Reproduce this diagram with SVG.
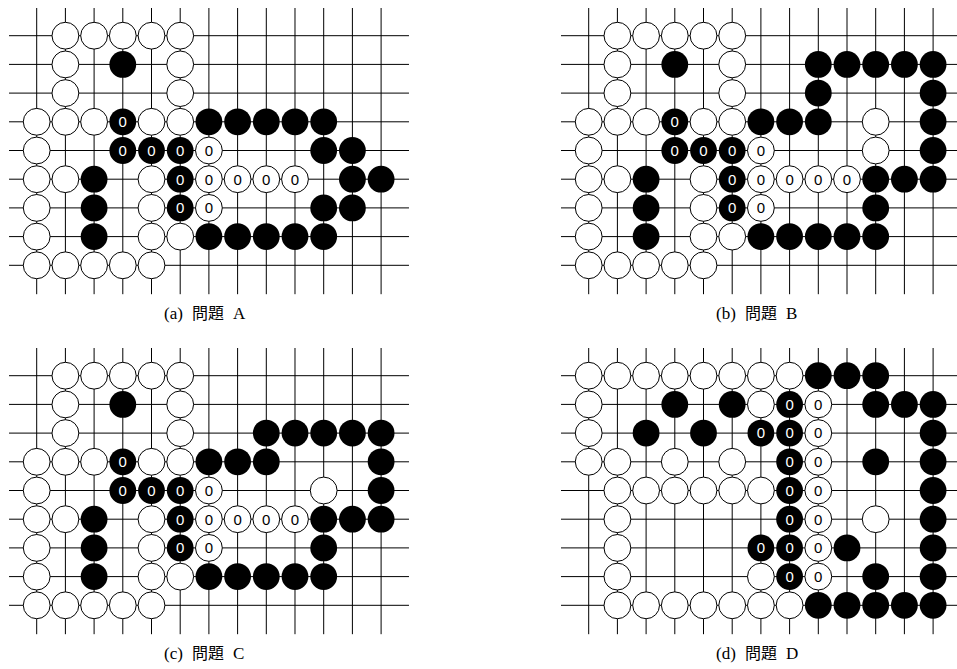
<svg xmlns="http://www.w3.org/2000/svg" width="957" height="669" viewBox="0 0 957 669">
<style>
.grid{fill:none;stroke:#000;stroke-width:1}
.w{fill:#fff;stroke:#000;stroke-width:1}
.b{fill:#000}
.tw{fill:#fff;font-family:"Liberation Sans","DejaVu Sans",sans-serif;font-size:15px;text-anchor:middle}
.tb{fill:#000;font-family:"Liberation Sans","DejaVu Sans",sans-serif;font-size:15px;text-anchor:middle}
.cap{font-family:"Liberation Serif",serif;font-size:17px;fill:#000}
.j{font-family:"Noto Sans CJK JP","Noto Sans CJK SC",sans-serif;font-size:16px}
</style>
<defs>
<circle id="w" class="w" r="13.4"/>
<circle id="b" class="b" r="13.4"/>
<path id="grid" class="grid" d="M-27.7 0H372.3M-27.7 28.7H372.3M-27.7 57.4H372.3M-27.7 86.1H372.3M-27.7 114.8H372.3M-27.7 143.5H372.3M-27.7 172.2H372.3M-27.7 200.9H372.3M-27.7 229.6H372.3M0 -27.7V258.5M28.7 -27.7V258.5M57.4 -27.7V258.5M86.1 -27.7V258.5M114.8 -27.7V258.5M143.5 -27.7V258.5M172.2 -27.7V258.5M200.9 -27.7V258.5M229.6 -27.7V258.5M258.3 -27.7V258.5M287 -27.7V258.5M315.7 -27.7V258.5M344.4 -27.7V258.5"/>
<g id="common">
<use href="#w" x="28.7" y="0"/><use href="#w" x="57.4" y="0"/><use href="#w" x="86.1" y="0"/><use href="#w" x="114.8" y="0"/><use href="#w" x="143.5" y="0"/>
<use href="#w" x="28.7" y="28.7"/><use href="#w" x="143.5" y="28.7"/>
<use href="#w" x="28.7" y="57.4"/><use href="#w" x="143.5" y="57.4"/>
<use href="#w" x="0" y="86.1"/><use href="#w" x="28.7" y="86.1"/><use href="#w" x="57.4" y="86.1"/><use href="#w" x="114.8" y="86.1"/><use href="#w" x="143.5" y="86.1"/>
<use href="#w" x="0" y="114.8"/>
<use href="#w" x="0" y="143.5"/><use href="#w" x="28.7" y="143.5"/><use href="#w" x="114.8" y="143.5"/>
<use href="#w" x="0" y="172.2"/><use href="#w" x="114.8" y="172.2"/>
<use href="#w" x="0" y="200.9"/><use href="#w" x="114.8" y="200.9"/><use href="#w" x="143.5" y="200.9"/>
<use href="#w" x="0" y="229.6"/><use href="#w" x="28.7" y="229.6"/><use href="#w" x="57.4" y="229.6"/><use href="#w" x="86.1" y="229.6"/><use href="#w" x="114.8" y="229.6"/>
<use href="#b" x="86.1" y="28.7"/>
<use href="#b" x="172.2" y="86.1"/><use href="#b" x="200.9" y="86.1"/><use href="#b" x="229.6" y="86.1"/>
<use href="#b" x="57.4" y="143.5"/><use href="#b" x="57.4" y="172.2"/><use href="#b" x="57.4" y="200.9"/>
<use href="#b" x="172.2" y="200.9"/><use href="#b" x="200.9" y="200.9"/><use href="#b" x="229.6" y="200.9"/><use href="#b" x="258.3" y="200.9"/><use href="#b" x="287" y="200.9"/>
<use href="#b" x="287" y="172.2"/><use href="#b" x="315.7" y="143.5"/><use href="#b" x="344.4" y="143.5"/>
<use href="#b" x="86.1" y="86.1"/><text class="tw" x="86.1" y="91.5">0</text>
<use href="#b" x="86.1" y="114.8"/><text class="tw" x="86.1" y="120.2">0</text>
<use href="#b" x="114.8" y="114.8"/><text class="tw" x="114.8" y="120.2">0</text>
<use href="#b" x="143.5" y="114.8"/><text class="tw" x="143.5" y="120.2">0</text>
<use href="#b" x="143.5" y="143.5"/><text class="tw" x="143.5" y="148.9">0</text>
<use href="#b" x="143.5" y="172.2"/><text class="tw" x="143.5" y="177.6">0</text>
<use href="#w" x="172.2" y="114.8"/><text class="tb" x="172.2" y="120.2">0</text>
<use href="#w" x="172.2" y="143.5"/><text class="tb" x="172.2" y="148.9">0</text>
<use href="#w" x="200.9" y="143.5"/><text class="tb" x="200.9" y="148.9">0</text>
<use href="#w" x="229.6" y="143.5"/><text class="tb" x="229.6" y="148.9">0</text>
<use href="#w" x="258.3" y="143.5"/><text class="tb" x="258.3" y="148.9">0</text>
<use href="#w" x="172.2" y="172.2"/><text class="tb" x="172.2" y="177.6">0</text>
</g>
</defs>

<g id="boardA" transform="translate(36.7 35.7)">
<use href="#grid"/>
<use href="#common"/>
<use href="#b" x="258.3" y="86.1"/><use href="#b" x="287" y="86.1"/>
<use href="#b" x="287" y="114.8"/><use href="#b" x="315.7" y="114.8"/>
<use href="#b" x="315.7" y="172.2"/>
</g>

<g id="boardB" transform="translate(588.7 35.7)">
<use href="#grid"/>
<use href="#common"/>
<use href="#b" x="229.6" y="28.7"/><use href="#b" x="258.3" y="28.7"/><use href="#b" x="287" y="28.7"/><use href="#b" x="315.7" y="28.7"/><use href="#b" x="344.4" y="28.7"/>
<use href="#b" x="229.6" y="57.4"/><use href="#b" x="344.4" y="57.4"/>
<use href="#b" x="344.4" y="86.1"/><use href="#b" x="344.4" y="114.8"/>
<use href="#b" x="287" y="143.5"/>
<use href="#w" x="287" y="86.1"/><use href="#w" x="287" y="114.8"/>
</g>

<g id="boardC" transform="translate(36.7 375.7)">
<use href="#grid"/>
<use href="#common"/>
<use href="#b" x="229.6" y="57.4"/><use href="#b" x="258.3" y="57.4"/><use href="#b" x="287" y="57.4"/><use href="#b" x="315.7" y="57.4"/><use href="#b" x="344.4" y="57.4"/>
<use href="#b" x="344.4" y="86.1"/><use href="#b" x="344.4" y="114.8"/>
<use href="#b" x="287" y="143.5"/>
<use href="#w" x="287" y="114.8"/>
</g>

<g id="boardD" transform="translate(588.7 375.7)">
<use href="#grid"/>
<use href="#w" x="0" y="0"/><use href="#w" x="28.7" y="0"/><use href="#w" x="57.4" y="0"/><use href="#w" x="86.1" y="0"/><use href="#w" x="114.8" y="0"/><use href="#w" x="143.5" y="0"/><use href="#w" x="172.2" y="0"/><use href="#w" x="200.9" y="0"/>
<use href="#w" x="0" y="28.7"/><use href="#w" x="172.2" y="28.7"/>
<use href="#w" x="0" y="57.4"/>
<use href="#w" x="0" y="86.1"/><use href="#w" x="28.7" y="86.1"/><use href="#w" x="86.1" y="86.1"/><use href="#w" x="143.5" y="86.1"/>
<use href="#w" x="28.7" y="114.8"/><use href="#w" x="57.4" y="114.8"/><use href="#w" x="86.1" y="114.8"/><use href="#w" x="114.8" y="114.8"/><use href="#w" x="143.5" y="114.8"/><use href="#w" x="172.2" y="114.8"/>
<use href="#w" x="28.7" y="143.5"/><use href="#w" x="287" y="143.5"/>
<use href="#w" x="28.7" y="172.2"/>
<use href="#w" x="28.7" y="200.9"/><use href="#w" x="172.2" y="200.9"/>
<use href="#w" x="28.7" y="229.6"/><use href="#w" x="57.4" y="229.6"/><use href="#w" x="86.1" y="229.6"/><use href="#w" x="114.8" y="229.6"/><use href="#w" x="143.5" y="229.6"/><use href="#w" x="172.2" y="229.6"/><use href="#w" x="200.9" y="229.6"/>
<use href="#b" x="229.6" y="0"/><use href="#b" x="258.3" y="0"/><use href="#b" x="287" y="0"/>
<use href="#b" x="86.1" y="28.7"/><use href="#b" x="143.5" y="28.7"/><use href="#b" x="287" y="28.7"/><use href="#b" x="315.7" y="28.7"/><use href="#b" x="344.4" y="28.7"/>
<use href="#b" x="57.4" y="57.4"/><use href="#b" x="114.8" y="57.4"/><use href="#b" x="344.4" y="57.4"/>
<use href="#b" x="287" y="86.1"/><use href="#b" x="344.4" y="86.1"/>
<use href="#b" x="344.4" y="114.8"/>
<use href="#b" x="344.4" y="143.5"/>
<use href="#b" x="258.3" y="172.2"/><use href="#b" x="344.4" y="172.2"/>
<use href="#b" x="287" y="200.9"/><use href="#b" x="344.4" y="200.9"/>
<use href="#b" x="229.6" y="229.6"/><use href="#b" x="258.3" y="229.6"/><use href="#b" x="287" y="229.6"/><use href="#b" x="315.7" y="229.6"/><use href="#b" x="344.4" y="229.6"/>
<use href="#b" x="200.9" y="28.7"/><text class="tw" x="200.9" y="34.1">0</text>
<use href="#b" x="172.2" y="57.4"/><text class="tw" x="172.2" y="62.8">0</text>
<use href="#b" x="200.9" y="57.4"/><text class="tw" x="200.9" y="62.8">0</text>
<use href="#b" x="200.9" y="86.1"/><text class="tw" x="200.9" y="91.5">0</text>
<use href="#b" x="200.9" y="114.8"/><text class="tw" x="200.9" y="120.2">0</text>
<use href="#b" x="200.9" y="143.5"/><text class="tw" x="200.9" y="148.9">0</text>
<use href="#b" x="172.2" y="172.2"/><text class="tw" x="172.2" y="177.6">0</text>
<use href="#b" x="200.9" y="172.2"/><text class="tw" x="200.9" y="177.6">0</text>
<use href="#b" x="200.9" y="200.9"/><text class="tw" x="200.9" y="206.3">0</text>
<use href="#w" x="229.6" y="28.7"/><text class="tb" x="229.6" y="34.1">0</text>
<use href="#w" x="229.6" y="57.4"/><text class="tb" x="229.6" y="62.8">0</text>
<use href="#w" x="229.6" y="86.1"/><text class="tb" x="229.6" y="91.5">0</text>
<use href="#w" x="229.6" y="114.8"/><text class="tb" x="229.6" y="120.2">0</text>
<use href="#w" x="229.6" y="143.5"/><text class="tb" x="229.6" y="148.9">0</text>
<use href="#w" x="229.6" y="172.2"/><text class="tb" x="229.6" y="177.6">0</text>
<use href="#w" x="229.6" y="200.9"/><text class="tb" x="229.6" y="206.3">0</text>
</g>

<g id="captions">
<text class="cap" y="319"><tspan x="164">(a)</tspan><tspan class="j" x="192">問題</tspan><tspan x="233">A</tspan></text>
<text class="cap" y="319"><tspan x="716">(b)</tspan><tspan class="j" x="745">問題</tspan><tspan x="786">B</tspan></text>
<text class="cap" y="659"><tspan x="164">(c)</tspan><tspan class="j" x="192">問題</tspan><tspan x="233">C</tspan></text>
<text class="cap" y="659"><tspan x="716">(d)</tspan><tspan class="j" x="745">問題</tspan><tspan x="786">D</tspan></text>
</g>
</svg>
